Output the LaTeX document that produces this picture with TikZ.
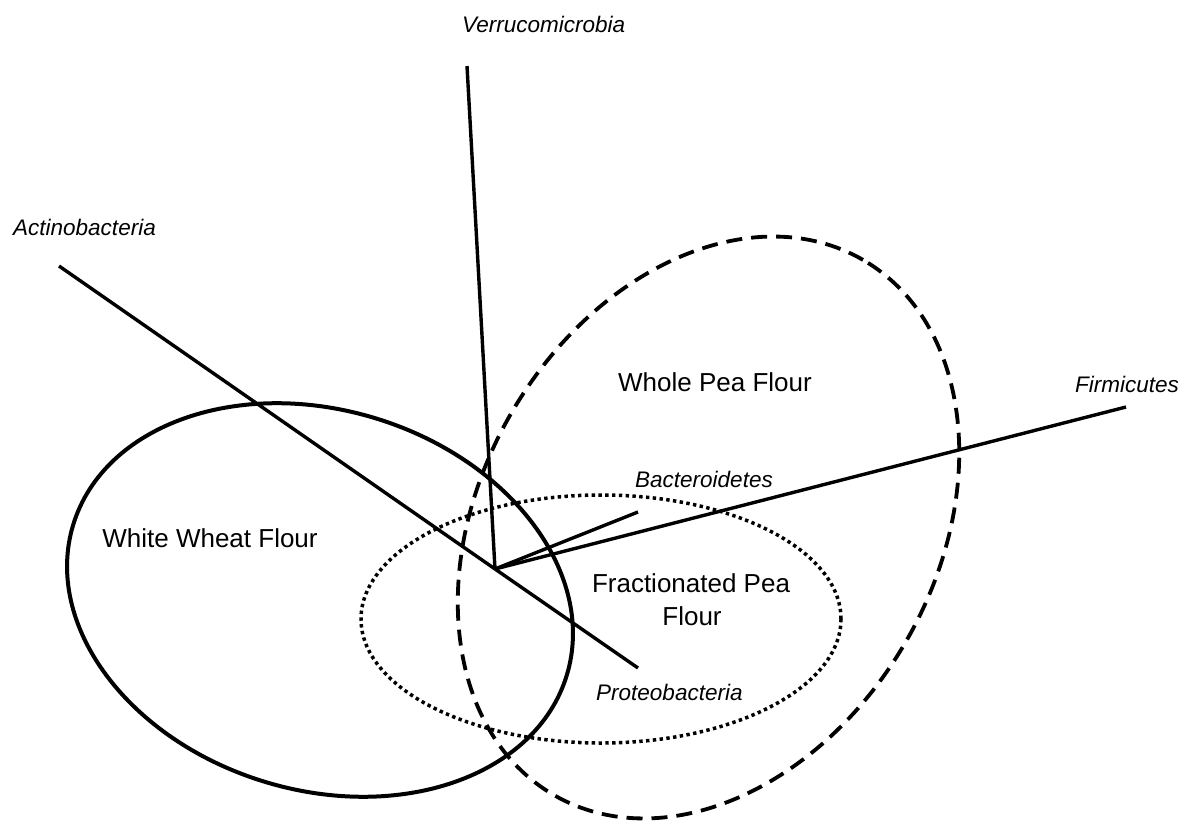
\documentclass[tikz,border=0pt]{standalone}
\usepackage{fontspec}
\setmainfont{Liberation Sans}
\begin{document}
\begin{tikzpicture}[x=1pt,y=-1pt,
  axisline/.style={line width=3.4pt, line cap=butt},
  wheat/.style={line width=4pt},
  wholepea/.style={line width=3.8pt, dash pattern=on 16pt off 9pt},
  fracpea/.style={line width=3.5pt, dash pattern=on 3.4pt off 3.4pt},
  biglabel/.style={font=\fontsize{26}{33}\selectfont, inner sep=0pt, anchor=base},
  taxon/.style={font=\fontsize{22.5}{27}\selectfont\itshape, inner sep=0pt, anchor=base west}]
\useasboundingbox (0,0) rectangle (1183,821);
% ellipse centres
\coordinate (cW) at (320,600);
\coordinate (cP) at (708.5,527.5);
\coordinate (cF) at (601,619);
% ellipses
\draw[wheat, rotate around={-17:(cW)}] (cW) ellipse [x radius=258pt, y radius=190pt];
\draw[wholepea, rotate around={60:(cP)}] (cP) ellipse [x radius=309pt, y radius=228pt];
\draw[fracpea] (cF) ellipse [x radius=240pt, y radius=124pt];
% biplot axes
\coordinate (O) at (495,569);
\coordinate (eVerr) at (467,66);
\coordinate (eActi) at (59,266);
\coordinate (ePro) at (638,668);
\coordinate (eBac) at (638,512);
\coordinate (eFir) at (1126,407);
\draw[axisline] (O) -- (eVerr);
\draw[axisline] (O) -- (eActi);
\draw[axisline] (O) -- (ePro);
\draw[axisline] (O) -- (eBac);
\draw[axisline] (O) -- (eFir);
% labels
\node[taxon] (verr) at (462,33) {Verrucomicrobia};
\node[taxon] (acti) at (13,235) {Actinobacteria};
\node[taxon] (firm) at (1075,392) {Firmicutes};
\node[taxon] (bact) at (635,487) {Bacteroidetes};
\node[taxon] (prot) at (596,700) {Proteobacteria};
\node[biglabel] (wpf) at (715,391) {Whole Pea Flour};
\node[biglabel] (wwf) at (210,547) {White Wheat Flour};
\node[biglabel] (fpf) at (691,592) {Fractionated Pea};
\node[biglabel] (fpf2) at (692,625) {Flour};
\end{tikzpicture}
\end{document}
